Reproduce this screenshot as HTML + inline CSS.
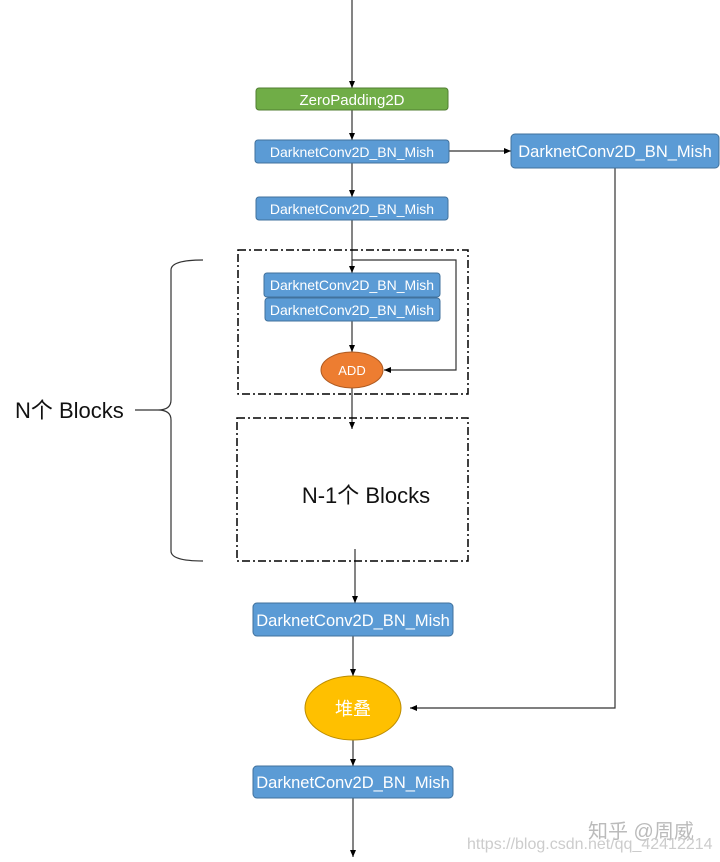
<!DOCTYPE html>
<html><head><meta charset="utf-8"><style>
html,body{margin:0;padding:0;background:#fff;width:720px;height:862px;overflow:hidden}
svg{display:block}
text{font-family:"Liberation Sans","Noto Sans CJK SC",sans-serif}
</style></head><body>
<svg width="720" height="862" viewBox="0 0 720 862" xmlns="http://www.w3.org/2000/svg">
<defs>
<marker id="a" markerWidth="8" markerHeight="8" refX="7" refY="4" orient="auto" markerUnits="userSpaceOnUse">
<path d="M0,1 L7,4 L0,7 z" fill="#000"/></marker>
</defs>
<g stroke="#333" stroke-width="1.2" fill="none">
<line x1="352" y1="0" x2="352" y2="88" marker-end="url(#a)"/>
<line x1="352" y1="110" x2="352" y2="140" marker-end="url(#a)"/>
<line x1="449" y1="151" x2="511" y2="151" marker-end="url(#a)"/>
<line x1="352" y1="163" x2="352" y2="197" marker-end="url(#a)"/>
<line x1="352" y1="220" x2="352" y2="273" marker-end="url(#a)"/>
<polyline points="352,260 456,260 456,370 384,370" marker-end="url(#a)"/>
<line x1="352" y1="321" x2="352" y2="352" marker-end="url(#a)"/>
<line x1="352" y1="388" x2="352" y2="429" marker-end="url(#a)"/>
<line x1="355" y1="549" x2="355" y2="603" marker-end="url(#a)"/>
<line x1="353" y1="636" x2="353" y2="676" marker-end="url(#a)"/>
<polyline points="615,168 615,708 410,708" marker-end="url(#a)"/>
<line x1="353" y1="740" x2="353" y2="766" marker-end="url(#a)"/>
<line x1="353" y1="798" x2="353" y2="857" marker-end="url(#a)"/>
</g>
<g stroke="#000" stroke-width="1.5" fill="none" stroke-dasharray="8,3,2,3">
<rect x="238" y="250" width="230" height="144"/>
<rect x="237" y="418" width="231" height="143"/>
</g>
<path d="M203,260 Q171,260 171,270 L171,400 Q171,410 158,410 Q171,410 171,420 L171,551 Q171,561 203,561" stroke="#333" stroke-width="1.2" fill="none"/>
<line x1="135" y1="410" x2="158" y2="410" stroke="#333" stroke-width="1.2"/>
<g stroke="#41719C" stroke-width="1" fill="#5B9BD5">
<rect x="256" y="88" width="192" height="22" rx="3" fill="#70AD47" stroke="#507E32"/>
<rect x="255" y="140" width="194" height="23" rx="3"/>
<rect x="511" y="134" width="208" height="34" rx="4"/>
<rect x="256" y="197" width="192" height="23" rx="3"/>
<rect x="264" y="273" width="176" height="24" rx="3"/>
<rect x="265" y="298" width="175" height="23" rx="3"/>
<rect x="253" y="603" width="200" height="33" rx="4"/>
<rect x="253" y="766" width="200" height="32" rx="4"/>
</g>
<ellipse cx="352" cy="370" rx="31" ry="18" fill="#ED7D31" stroke="#AE5A21"/>
<ellipse cx="353" cy="708" rx="48" ry="32" fill="#FFC000" stroke="#BC8C00"/>
<g fill="#fff" text-anchor="middle">
<text x="352" y="105" font-size="15">ZeroPadding2D</text>
<text x="352" y="157" font-size="14">DarknetConv2D_BN_Mish</text>
<text x="615" y="157" font-size="16.5">DarknetConv2D_BN_Mish</text>
<text x="352" y="214" font-size="14">DarknetConv2D_BN_Mish</text>
<text x="352" y="290" font-size="14">DarknetConv2D_BN_Mish</text>
<text x="352" y="315" font-size="14">DarknetConv2D_BN_Mish</text>
<text x="352" y="375" font-size="13">ADD</text>
<text x="353" y="626" font-size="16.5">DarknetConv2D_BN_Mish</text>
<text x="353" y="788" font-size="16.5">DarknetConv2D_BN_Mish</text>
<text x="353" y="715" font-size="18">堆叠</text>
</g>
<text x="15" y="418" font-size="22" fill="#111">N个 Blocks</text>
<text x="366" y="503" font-size="22" fill="#111" text-anchor="middle">N-1个 Blocks</text>
<text x="588" y="838" font-size="20" fill="#bbb">知乎 @周威</text>
<text x="467" y="849" font-size="16" fill="#ccc">https://blog.csdn.net/qq_42412214</text>
</svg>
</body></html>
